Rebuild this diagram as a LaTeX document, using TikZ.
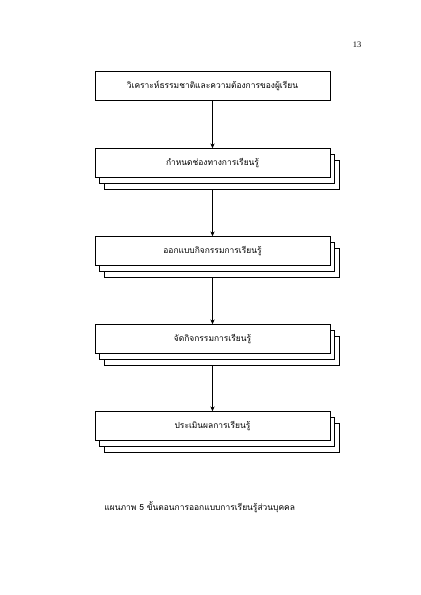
\documentclass[tikz,border=0pt]{standalone}
\usepackage{fontspec}
\setmainfont{Liberation Serif}
\newfontfamily\thaifont[Script=Thai]{Loma}
\usetikzlibrary{arrows.meta,shadows,backgrounds}

\tikzset{
  stepbox/.style={draw, fill=white, line width=0.6pt, minimum width=11.75cm,
    minimum height=1.45cm, font=\thaifont\fontsize{12}{14}\selectfont},
  stackbox/.style={stepbox, double copy shadow={shadow xshift=0.22cm, shadow yshift=-0.3cm}}
}

\begin{document}
\begin{tikzpicture}[>={Stealth[length=7pt,width=6pt]}]
  \useasboundingbox (0,0) rectangle (21,29.75);
  \node (page) at (17.85,27.5) {\fontsize{12}{14}\selectfont 13};
  \node[stepbox] (s1) at (10.625,25.45) {วิเคราะห์ธรรมชาติและความต้องการของผู้เรียน};
  \node[stackbox] (s2) at (10.625,21.6) {กำหนดช่องทางการเรียนรู้};
  \node[stackbox] (s3) at (10.625,17.2) {ออกแบบกิจกรรมการเรียนรู้};
  \node[stackbox] (s4) at (10.625,12.8) {จัดกิจกรรมการเรียนรู้};
  \node[stackbox] (s5) at (10.625,8.45) {ประเมินผลการเรียนรู้};
  \begin{scope}[on background layer]
    \draw[->, line width=0.8pt] (s1) -- (s2);
    \draw[->, line width=0.8pt] (s2) -- (s3);
    \draw[->, line width=0.8pt] (s3) -- (s4);
    \draw[->, line width=0.8pt] (s4) -- (s5);
  \end{scope}
  \node[anchor=west, font=\thaifont\fontsize{12}{14}\selectfont] (cap) at (5.1,4.4)
    {แผนภาพ 5 ขั้นตอนการออกแบบการเรียนรู้ส่วนบุคคล};
\end{tikzpicture}
\end{document}
